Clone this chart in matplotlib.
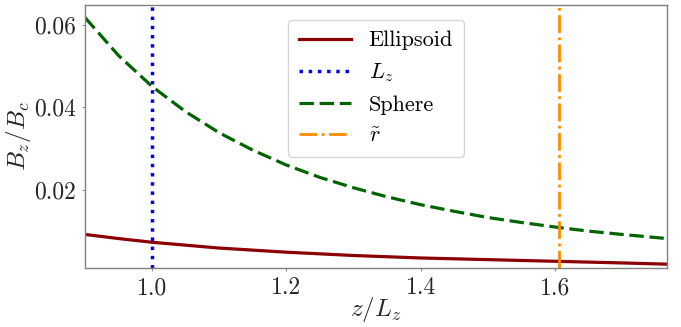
import matplotlib
matplotlib.use('Agg')
import matplotlib.pyplot as plt

# values
zVals = [0.90, 0.95, 1.00, 1.05, 1.10, 1.15, 1.20, 1.25, 1.30, 1.35,
         1.40, 1.45, 1.50, 1.55, 1.60, 1.65, 1.70, 1.767]
ellipsoid = [0.0092, 0.0082, 0.0073, 0.0066, 0.0059, 0.0054, 0.0049, 0.0045,
             0.0041, 0.0038, 0.0035, 0.0033, 0.0031, 0.0029, 0.0027, 0.0025,
             0.0023, 0.0020]
sphere = [0.0617, 0.0525, 0.0450, 0.0389, 0.0338, 0.0296, 0.0260, 0.0230,
          0.0205, 0.0183, 0.0164, 0.0148, 0.0133, 0.0121, 0.0110, 0.0100,
          0.0092, 0.0082]
Lz = 1.0
rTilde = 1.6055
xTicks = [1.0, 1.2, 1.4, 1.6]
yTicks = [0.02, 0.04, 0.06]

plt.rcParams['font.family'] = 'serif'
plt.rcParams['font.serif'] = ['cmr10']
plt.rcParams['mathtext.fontset'] = 'cm'
plt.rcParams['axes.formatter.use_mathtext'] = True

fig = plt.figure(figsize=(6.81, 3.27), dpi=100)
ax = fig.add_axes([0.1248, 0.1795, 0.8546, 0.806])

ax.plot(zVals, ellipsoid, color='darkred', linewidth=2.3, label='Ellipsoid')
ax.axvline(Lz, color='blue', linestyle=':', linewidth=2.5, label=r'$L_z$')
ax.plot(zVals, sphere, color='darkgreen', linestyle=(0, (4.5, 1.8)),
        linewidth=2.3, label='Sphere')
ax.axvline(rTilde, color='darkorange', linestyle='-.', linewidth=2.0,
           label=r'$\tilde{r}$')

ax.set_xlim(0.9, 1.767)
ax.set_ylim(0.001, 0.0648)
ax.set_xticks(xTicks)
ax.set_xticklabels(['1.0', '1.2', '1.4', '1.6'])
ax.set_yticks(yTicks)
ax.set_yticklabels(['0.02', '0.04', '0.06'])
ax.tick_params(labelsize=17, length=2.5, width=0.8, color='0.55',
               labelcolor='0.15', pad=4)
for sp in ax.spines.values():
    sp.set_color('0.5')
    sp.set_linewidth(1.0)

ax.set_xlabel(r'$z/L_z$', fontsize=18, color='0.15', labelpad=-3)
ax.set_ylabel(r'$B_z/B_c$', fontsize=18, color='0.15', labelpad=1)

ax.legend(loc='upper center', fontsize=16, handlelength=2.35,
          borderpad=0.5, labelspacing=0.5, handletextpad=0.8,
          bbox_to_anchor=(0.5, 0.985))

fig.savefig('out.png', dpi=100)
